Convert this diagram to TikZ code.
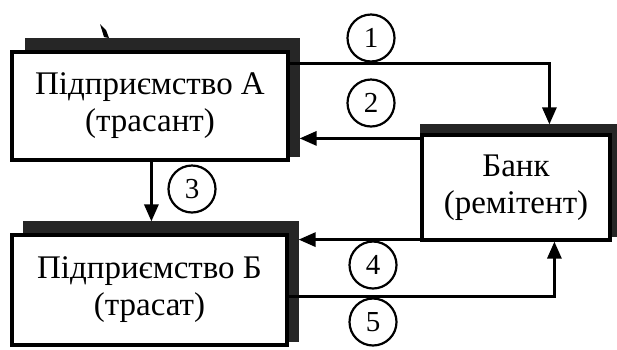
\documentclass[tikz,border=0pt]{standalone}
\usepackage{fontspec}
\setmainfont{Liberation Serif}
\usetikzlibrary{arrows.meta,backgrounds}
\begin{document}
\begin{tikzpicture}[x=1pt,y=-1pt,
  box/.style={draw, line width=3.2pt, fill=white, inner sep=0pt, align=center,
    font=\fontsize{33pt}{37pt}\selectfont},
  shad/.style={fill=black!85},
  num/.style={draw, circle, line width=2.2pt, minimum size=47pt, inner sep=0pt,
    font=\fontsize{29pt}{30pt}\selectfont},
  arr/.style={line width=3pt, -{Triangle[length=17pt,width=14pt]}}]
\useasboundingbox (0,0) rectangle (617,349);
\node[box, minimum width=276pt, minimum height=108pt] (A) at (150,106) {Підприємство А\\(трасант)};
\node[box, minimum width=275pt, minimum height=110pt] (B) at (149.5,290) {Підприємство Б\\(трасат)};
\node[box, minimum width=188pt, minimum height=105pt] (K) at (516,187.5) {Банк\\(ремітент)};
\begin{pgfonlayer}{background}
\fill[shad] ([xshift=15pt,yshift=12pt]A.north west) rectangle ([xshift=10pt,yshift=5pt]A.south east);
\fill[shad] ([xshift=13pt,yshift=12pt]B.north west) rectangle ([xshift=10pt,yshift=5pt]B.south east);
\fill[shad] ([xshift=0pt,yshift=9pt]K.north west) rectangle ([xshift=7pt,yshift=5pt]K.south east);
\end{pgfonlayer}
\fill (100,24) -- (106,30) -- (109,38) -- (104,37) -- cycle;
\node[num] (n1) at (371,38) {1};
\node[num] (n2) at (371,103) {2};
\node[num] (n3) at (192,189) {3};
\node[num] (n4) at (373,265) {4};
\node[num] (n5) at (373,322) {5};
\coordinate (Ar) at ([xshift=10pt]A.east);
\coordinate (Br) at ([xshift=10pt]B.east);
\coordinate (s2) at ([yshift=-5pt]K.north west);
\coordinate (s4) at ([yshift=2pt]K.south west);
\draw[arr] ([yshift=-13pt]A.north east) -| ([xshift=129pt,yshift=9pt]K.north west);
\draw[arr] (s2) -- (s2 -| Ar);
\draw[arr] ([xshift=141pt]A.south west) -- ([xshift=141pt,yshift=12pt]B.north west);
\draw[arr] (s4) -- (s4 -| Br);
\draw[arr] ([yshift=-6pt]B.east) -| ([xshift=134pt]K.south west);
\end{tikzpicture}
\end{document}
